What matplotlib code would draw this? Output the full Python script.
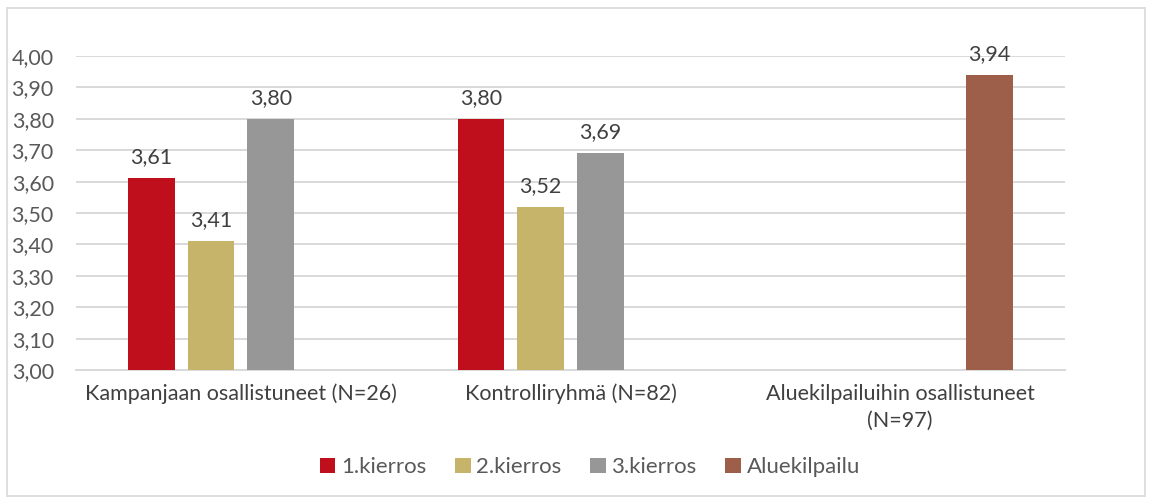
import numpy as np
import matplotlib.pyplot as plt
from matplotlib.patches import Rectangle

categories = ["Kampanjaan osallistuneet (N=26)", "Kontrolliryhmä (N=82)",
              "Aluekilpailuihin osallistuneet\n(N=97)"]
series_names = ["1.kierros", "2.kierros", "3.kierros", "Aluekilpailu"]
kierros1 = [3.61, 3.80, np.nan]
kierros2 = [3.41, 3.52, np.nan]
kierros3 = [3.80, 3.69, np.nan]
aluekilpailu = [np.nan, np.nan, 3.94]
colors = ["#C00F1C", "#C5B46A", "#979797", "#9E5F4A"]

plt.rcParams["font.family"] = ["Lato", "DejaVu Sans"]

fig = plt.figure(figsize=(11.52, 4.99), dpi=100)
ax = fig.add_axes([0.066, 0.2585, 0.8585, 0.6293])

# light frame round the whole picture
fig.patches.append(Rectangle((0.006, 0.006), 0.988, 0.978, transform=fig.transFigure,
                             fill=False, edgecolor="#D9D9D9", linewidth=1.2))

x = np.arange(len(categories))
slot = 0.181
width = 0.142
all_series = [kierros1, kierros2, kierros3, aluekilpailu]

for i, (name, vals) in enumerate(zip(series_names, all_series)):
    pos = x + (i - 1.5) * slot
    v = np.array(vals, dtype=float)
    base = 3.0
    ax.bar(pos, v - base, bottom=base, width=width, color=colors[i],
           label=name, zorder=3)
    for p, val in zip(pos, v):
        if not np.isnan(val):
            ax.annotate(f"{val:.2f}".replace(".", ","), (p, val),
                        xytext=(0, 8), textcoords="offset points",
                        ha="center", va="bottom", fontsize=15.5, color="#404040",
                        annotation_clip=False)

ax.set_xlim(-0.5, 2.5)
ax.set_ylim(3.0, 4.0)
yt = np.arange(3.0, 4.001, 0.1)
ax.set_yticks(yt)
ax.set_yticklabels([f"{t:.2f}".replace(".", ",") for t in yt], fontsize=15.5, color="#595959")
ax.set_xticks(x)
ax.set_xticklabels(categories, fontsize=15.5, color="#404040", linespacing=1.45)
ax.tick_params(length=0)
ax.tick_params(axis="y", pad=16)
ax.tick_params(axis="x", pad=10)
ax.grid(axis="y", color="#D9D9D9", linewidth=1.4, zorder=0)
for s in ["top", "right", "left"]:
    ax.spines[s].set_visible(False)
ax.spines["bottom"].set_color("#D9D9D9")
ax.spines["bottom"].set_linewidth(1.4)

fig.legend(loc="center", bbox_to_anchor=(0.512, 0.064), ncol=4, frameon=False,
           fontsize=16, handlelength=0.7, handleheight=0.7, handletextpad=0.25,
           columnspacing=1.3, labelcolor="#595959")

fig.savefig("out.png", dpi=100)
